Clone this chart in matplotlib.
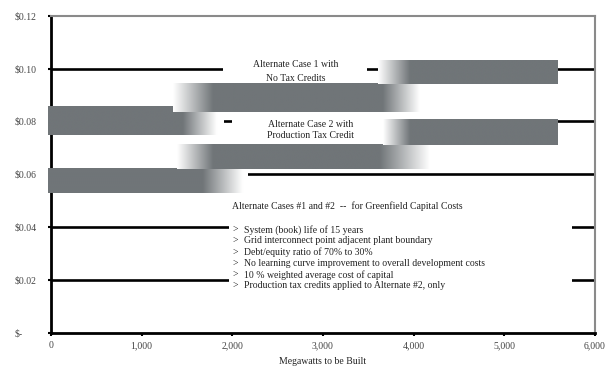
import matplotlib.pyplot as plt
import numpy as np
from matplotlib.patches import Rectangle

plt.rcParams['font.family'] = ['Liberation Serif', 'DejaVu Serif']

# axis ticks
x_ticks = [0, 1000, 2000, 3000, 4000, 5000, 6000]
x_labels = ['0', '1,000', '2,000', '3,000', '4,000', '5,000', '6,000']
y_ticks = [0, 0.02, 0.04, 0.06, 0.08, 0.10, 0.12]
y_labels = ['$-', '$0.02', '$0.04', '$0.06', '$0.08', '$0.10', '$0.12']

# shaded cost bands (MW built vs $/kWh)
# left = start (white), full_from = fully gray, full_to = last gray, fade_to = white again, right = end
band_names = ['C', 'B', 'A', 'F', 'E', 'D']
band_left = [-33, 1345, 3605, -33, 1389, 3660]
band_full_from = [-33, 1786, 3958, -33, 1786, 3958]
band_full_to = [1455, 3660, 5590, 1675, 3627, 5590]
band_fade_to = [1830, 4068, 5590, 2117, 4179, 5590]
band_right = [1907, 4068, 5590, 2172, 4179, 5590]
band_bottom = [0.0749, 0.0836, 0.0942, 0.0529, 0.0620, 0.0711]
band_top = [0.0855, 0.0942, 0.1029, 0.0620, 0.0711, 0.0806]

# gridlines that sit behind the labels
grid_levels = [0.02, 0.04, 0.06, 0.08, 0.10]

case1_lines = ['Alternate Case 1 with', 'No Tax Credits']
case2_lines = ['Alternate Case 2 with', 'Production Tax Credit']
notes_title = 'Alternate Cases #1 and #2  --  for Greenfield Capital Costs'
notes = ['System (book) life of 15 years',
         'Grid interconnect point adjacent plant boundary',
         'Debt/equity ratio of 70% to 30%',
         'No learning curve improvement to overall development costs',
         '10 % weighted average cost of capital',
         'Production tax credits applied to Alternate #2, only']

gray = np.array([112, 117, 120]) / 255.0

fig = plt.figure(figsize=(6.09, 3.66), dpi=100)
ax = fig.add_axes([0.0837, 0.0902, 0.8933, 0.8669])

for g in grid_levels:
    ax.axhline(g, color='black', lw=1.9, zorder=1.5)

# white label boxes hiding the gridlines
ax.add_patch(Rectangle((1896, 0.093), 3484 - 1896, 0.012, facecolor='white', edgecolor='none', zorder=2))
ax.add_patch(Rectangle((1996, 0.072), 3700 - 1996, 0.0115, facecolor='white', edgecolor='none', zorder=2))
ax.add_patch(Rectangle((1962, 0.014), 5744 - 1962, 0.037, facecolor='white', edgecolor='none', zorder=2))


def band_alpha(x, l, f0, f1, f2):
    a = np.ones_like(x)
    if f0 > l:
        a = np.minimum(a, np.clip((x - l) / (f0 - l), 0, 1))
    if f2 > f1:
        a = np.minimum(a, np.clip((f2 - x) / (f2 - f1), 0, 1))
    a[x > f2] = 0
    return a


for i in range(len(band_names)):
    xs = np.linspace(band_left[i], band_right[i], 500)
    a = band_alpha(xs, band_left[i], band_full_from[i], band_full_to[i], band_fade_to[i])
    img = (1 - a)[:, None] * np.ones(3) + a[:, None] * gray
    im = ax.imshow(img[None, :, :], extent=(band_left[i], band_right[i], band_bottom[i], band_top[i]),
                   aspect='auto', interpolation='bilinear', zorder=5)
    im.set_clip_on(False)

ax.text(2695, 0.1014, case1_lines[0], ha='center', va='center', fontsize=7, color='#222222', zorder=6)
ax.text(2695, 0.0963, case1_lines[1], ha='center', va='center', fontsize=7, color='#222222', zorder=6)
ax.text(2861, 0.0787, case2_lines[0], ha='center', va='center', fontsize=7, color='#222222', zorder=6)
ax.text(2861, 0.0746, case2_lines[1], ha='center', va='center', fontsize=7, color='#222222', zorder=6)

ax.text(1996, 0.0480, notes_title, ha='left', va='center', fontsize=7, color='#222222', zorder=6)
note_y = [0.0391, 0.0349, 0.0306, 0.0263, 0.0220, 0.0178]
for y, t in zip(note_y, notes):
    ax.text(2007, y, '>', ha='left', va='center', fontsize=7, color='#222222', zorder=6)
    ax.text(2128, y, t, ha='left', va='center', fontsize=7, color='#222222', zorder=6)

ax.set_xlim(0, 6000)
ax.set_ylim(0, 0.12)
ax.set_xticks(x_ticks)
ax.set_xticklabels(x_labels)
ax.set_yticks(y_ticks)
ax.set_yticklabels(y_labels, ha='left')
ax.tick_params(axis='x', direction='out', length=2.5, width=1.5, pad=3.5, labelsize=7, labelcolor='#444444')
ax.tick_params(axis='y', direction='out', length=2, width=1.5, pad=24, labelsize=7, labelcolor='#444444')

for s in ['left', 'bottom']:
    ax.spines[s].set_color('black')
    ax.spines[s].set_linewidth(2)
for s in ['top', 'right']:
    ax.spines[s].set_color('#8a8a8a')
    ax.spines[s].set_linewidth(1.5)

ax.set_xlabel('Megawatts to be Built', fontsize=7, color='#222222', labelpad=5)

plt.savefig('out.png', dpi=100)
